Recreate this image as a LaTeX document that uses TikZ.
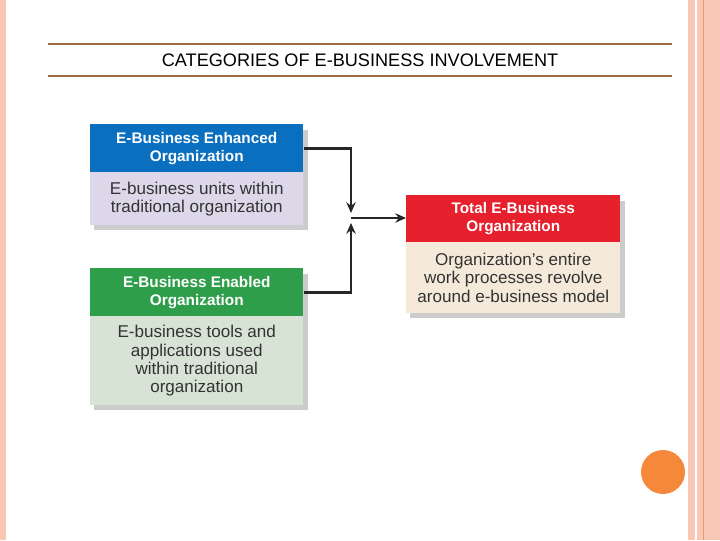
\documentclass[tikz,border=0pt]{standalone}
\usepackage{fontspec}
\setmainfont{Liberation Sans}
\usetikzlibrary{arrows.meta}
\definecolor{bline}{HTML}{9C6B42}
\definecolor{pinkb}{HTML}{F9C8B4}
\definecolor{pinkd}{HTML}{E89A78}
\definecolor{hblue}{HTML}{0B6FBF}
\definecolor{blav}{HTML}{DDD7EA}
\definecolor{hgreen}{HTML}{2F9E4B}
\definecolor{bgreen}{HTML}{D7E3D5}
\definecolor{hred}{HTML}{E6202C}
\definecolor{bbeige}{HTML}{F5EADA}
\definecolor{btext}{HTML}{333333}
\definecolor{orng}{HTML}{F5883A}
\begin{document}
\begin{tikzpicture}[x=0.75pt,y=-0.75pt,
  hdr/.style={anchor=north west,inner sep=0pt,minimum width=213*0.75pt,text=white,align=center,font=\bfseries\fontsize{11.5}{13.4}\selectfont},
  bdy/.style={anchor=north west,inner sep=0pt,minimum width=213*0.75pt,text=btext,align=center,font=\fontsize{12.8}{13.6}\selectfont},
  conn/.style={line width=1.9pt,black!85},
  tip/.style={-{Stealth[length=8pt,width=7pt]}}]
\useasboundingbox (0,0) rectangle (720,540);
\fill[white] (0,0) rectangle (720,540);
% borders
\fill[pinkb] (0,0) rectangle (6,540);
\fill[pinkb] (688,0) rectangle (695,540);
\fill[pinkb] (697,0) rectangle (720,540);
\fill[pinkd] (702.5,0) rectangle (703.8,540);
\draw[bline,line width=1.5pt] (48,44) -- (672,44);
\draw[bline,line width=1.5pt] (48,76) -- (672,76);
\node (title) at (360,60) {\fontsize{13.6}{15}\selectfont CATEGORIES OF E-BUSINESS INVOLVEMENT};
\fill[orng] (663,472) circle (22);
% shadows
\fill[black!20] (94,130) rectangle (308,230);
\fill[black!20] (94,274) rectangle (308,410);
\fill[black!20] (410,201) rectangle (625,318);
% box 1
\node[hdr,fill=hblue,minimum height=48*0.75pt] (h1) at (90,124) {E-Business Enhanced\\Organization};
\node[bdy,fill=blav,minimum height=53*0.75pt] (b1) at (90,172) {E-business units within\\traditional organization};
% box 2
\node[hdr,fill=hgreen,minimum height=48*0.75pt] (h2) at (90,268) {E-Business Enabled\\Organization};
\node[bdy,fill=bgreen,minimum height=89*0.75pt] (b2) at (90,316) {E-business tools and\\applications used\\within traditional\\organization};
% box 3
\node[hdr,fill=hred,minimum height=47*0.75pt,minimum width=214*0.75pt] (h3) at (406,195) {Total E-Business\\Organization};
\node[bdy,fill=bbeige,minimum height=71*0.75pt,minimum width=214*0.75pt] (b3) at (406,242) {Organization’s entire\\work processes revolve\\around e-business model};
% connectors
\coordinate (j) at (351,218);
\coordinate (jt) at (351,213);
\coordinate (jb) at (351,223);
\draw[conn,tip] (h1.east) -| (jt);
\draw[conn,tip] (h2.east) -| (jb);
\draw[conn,tip] (j) -- (h3.west |- j);
\end{tikzpicture}
\end{document}
